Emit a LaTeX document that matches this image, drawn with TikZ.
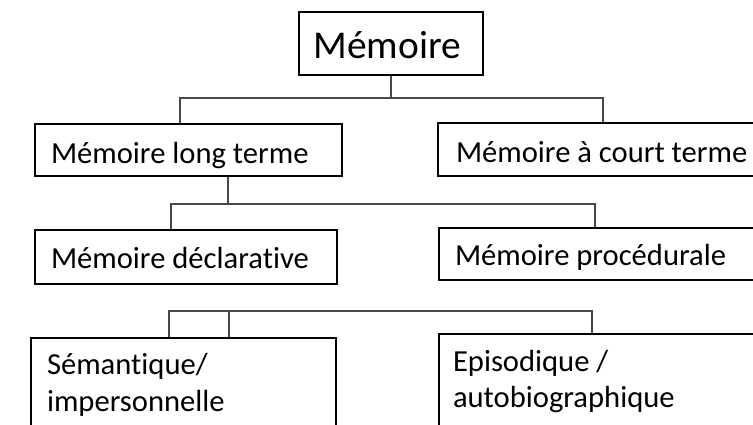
\documentclass[tikz,border=0pt]{standalone}
\usepackage{fontspec}
\setmainfont{Carlito}[Ligatures={NoCommon}]
\newcommand{\boxtext}[2]{\parbox[t]{#1}{\raggedright #2}}
\tikzset{
  box/.style={draw=black, line width=2pt, anchor=north west, inner ysep=0pt,
    font=\fontsize{30.6pt}{36.8pt}\selectfont},
  conn/.style={draw=black!72, line width=1.3pt},
}
\begin{document}
\begin{tikzpicture}[x=1pt,y=-1pt]
\useasboundingbox (0,0) rectangle (753,424);
\fill[white] (0,0) rectangle (753,424);
\clip (0,0) rectangle (753,424);

\node[box, inner xsep=14.5pt, text height=46pt, text depth=17pt,
      font=\fontsize{39.4pt}{46pt}\selectfont] (M) at (298,11) {\boxtext{155pt}{Mémoire}};
\node[box, inner xsep=16pt, text height=39pt, text depth=13pt] (MLT) at (34,123) {\boxtext{275pt}{Mémoire long terme}};
\node[box, inner xsep=18pt, text height=39pt, text depth=14pt] (MCT) at (437,122) {\boxtext{317pt}{Mémoire à court terme}};
\node[box, inner xsep=16pt, text height=38pt, text depth=16pt] (MD) at (34,229) {\boxtext{270pt}{Mémoire déclarative}};
\node[box, inner xsep=16pt, text height=37pt, text depth=15pt] (MP) at (438,227) {\boxtext{320pt}{Mémoire procédurale}};
\node[box, inner xsep=16pt, text height=36.5pt, text depth=100pt] (SI) at (30,337) {\boxtext{273pt}{Sémantique/\\impersonnelle}};
\node[box, inner xsep=14pt, text height=37pt, text depth=100pt] (EA) at (438,333) {\boxtext{324pt}{Episodique /\\autobiographique}};

\coordinate (a1) at (391,98);
\coordinate (a2) at (180,98);
\coordinate (a3) at (603,98);
\draw[conn] (M.south -| a1) -- (a1);
\draw[conn] (MLT.north -| a2) -- (a2) -- (a3) -- (MCT.north -| a3);

\coordinate (b1) at (228,204);
\coordinate (b2) at (171,204);
\coordinate (b3) at (595,204);
\draw[conn] (MLT.south -| b1) -- (b1);
\draw[conn] (MD.north -| b2) -- (b2) -- (b3) -- (MP.north -| b3);

\coordinate (c1) at (229,311);
\coordinate (c2) at (169,311);
\coordinate (c3) at (592,311);
\draw[conn] (SI.north -| c2) -- (c2) -- (c3) -- (EA.north -| c3);
\draw[conn] (SI.north -| c1) -- (c1);
\end{tikzpicture}
\end{document}
